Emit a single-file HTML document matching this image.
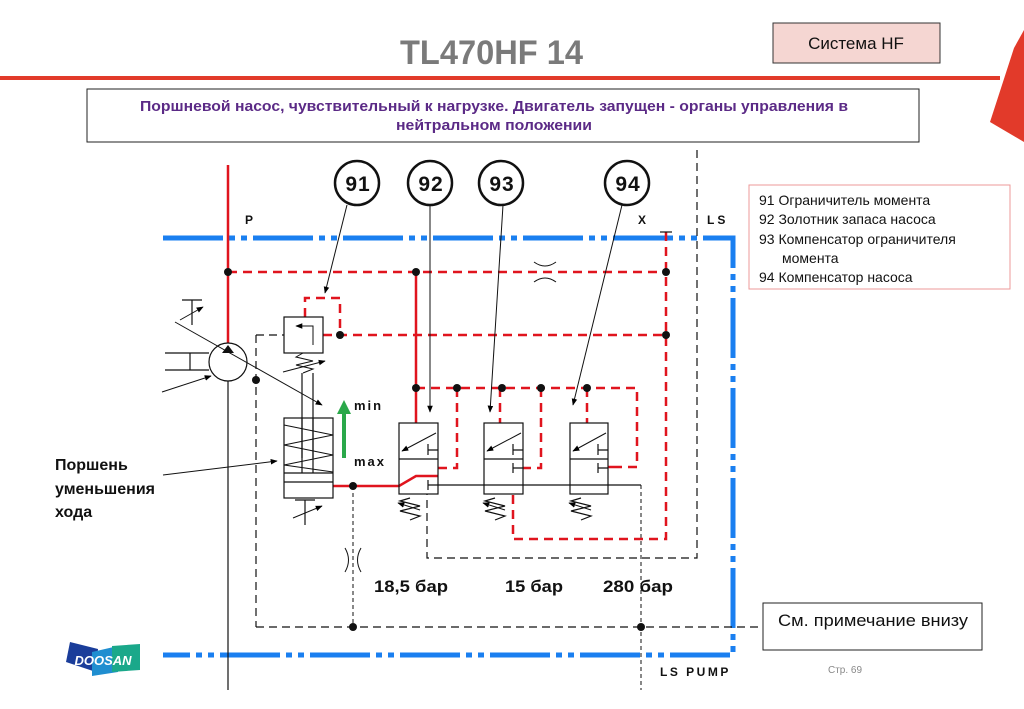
<!DOCTYPE html>
<html><head><meta charset="utf-8"><style>
body{margin:0;background:#fff;width:1024px;height:709px;overflow:hidden}
svg{display:block}
text{font-family:"Liberation Sans",sans-serif}
</style></head><body>
<svg width="1024" height="709" viewBox="0 0 1024 709" xmlns="http://www.w3.org/2000/svg">
<defs>
<marker id="ah" viewBox="0 0 10 10" refX="9" refY="5" markerWidth="7" markerHeight="7" orient="auto"><path d="M0,1 L10,5 L0,9 z" fill="#000"/></marker>
</defs>
<!-- header -->
<text x="400" y="64" font-size="34" font-weight="bold" fill="#7a7a7a" textLength="183" lengthAdjust="spacingAndGlyphs">TL470HF  14</text>
<rect x="773" y="23" width="167" height="40" fill="#f5d6d2" stroke="#333" stroke-width="1"/>
<text x="856" y="49" font-size="17" text-anchor="middle" fill="#111">Система HF</text>
<rect x="0" y="76" width="1000" height="4" fill="#e23a2a"/>
<polygon points="1014,48 1024,30 1024,142 990,122" fill="#e23a2a"/>
<rect x="87" y="89" width="832" height="53" fill="#fff" stroke="#222" stroke-width="1"/>
<text x="140" y="111" font-size="15" font-weight="bold" fill="#5b2a86" textLength="708" lengthAdjust="spacingAndGlyphs">Поршневой насос, чувствительный к нагрузке. Двигатель запущен - органы управления в</text>
<text x="396" y="130" font-size="15" font-weight="bold" fill="#5b2a86" textLength="196" lengthAdjust="spacingAndGlyphs">нейтральном положении</text>
<!-- legend -->
<rect x="749" y="185" width="261" height="104" fill="#fff" stroke="#e99" stroke-width="1"/>
<g font-size="14" fill="#111">
<text x="759" y="205">91 Ограничитель момента</text>
<text x="759" y="224">92 Золотник запаса насоса</text>
<text x="759" y="244">93 Компенсатор ограничителя</text>
<text x="782" y="263">момента</text>
<text x="759" y="282">94 Компенсатор насоса</text>
</g>
<rect x="763" y="603" width="219" height="47" fill="#fff" stroke="#222"/>
<text x="778" y="626" font-size="17" fill="#111" textLength="190" lengthAdjust="spacingAndGlyphs">См. примечание внизу</text>
<!-- blue lines -->
<g stroke="#1a7ff0" stroke-width="5" fill="none" stroke-dasharray="60,6,6,6,6,6">
<path d="M163,238 H733 V655 H163"/>
</g>
<!-- black dashed frame -->
<g stroke="#111" stroke-width="1.2" fill="none" stroke-dasharray="8,5">
<path d="M697,150 V558 H427 V494"/>
<path d="M256,627 H760"/>
<path d="M256,335 V627"/>
<path d="M256,335 H284"/>
</g>
<g stroke="#111" stroke-width="1" fill="none" stroke-dasharray="4,3">
<path d="M353,486 V627"/>
<path d="M641,485 V690"/>
</g>
<path d="M345,548 Q352,560 345,572 M361,548 Q354,560 361,572" stroke="#111" fill="none"/>
<path d="M534,262 Q545,270 556,262 M534,282 Q545,274 556,282" stroke="#111" fill="none"/>
<!-- black solid -->
<g stroke="#111" stroke-width="1.2" fill="none">
<path d="M228,381 V690"/>
<path d="M438,485 H641"/>
<path d="M165,353 H209 M165,370 H209 M190,353 V370"/>
<path d="M192,300 V325 M182,300 H202"/>
<path d="M305,500 V525 M295,500 H315"/>
</g>
<!-- red -->
<g stroke="#e0141e" stroke-width="2.5" fill="none">
<path d="M228,165 V343"/>
<path d="M416,272 V423"/>
<path d="M333,486 H399 L416,476 H438"/>
<path d="M608,467 H620"/>
</g>
<g stroke="#e0141e" stroke-width="2.5" fill="none" stroke-dasharray="9,6">
<path d="M228,272 H666"/>
<path d="M323,335 H666"/>
<path d="M305,317 V298 H340 V335"/>
<path d="M666,232 V539 H513 V494"/>
<path d="M416,388 H637 V467 H620"/>
<path d="M457,388 V468 H438"/>
<path d="M541,388 V468 H523"/>
<path d="M500,388 V423"/>
<path d="M587,388 V423"/>
</g>
<path d="M660,232 H672" stroke="#111" stroke-width="1.2"/>
<!-- dots -->
<g fill="#111">
<circle cx="228" cy="272" r="4"/><circle cx="416" cy="272" r="4"/><circle cx="666" cy="272" r="4"/>
<circle cx="340" cy="335" r="4"/><circle cx="666" cy="335" r="4"/>
<circle cx="416" cy="388" r="4"/><circle cx="457" cy="388" r="4"/><circle cx="502" cy="388" r="4"/><circle cx="541" cy="388" r="4"/><circle cx="587" cy="388" r="4"/>
<circle cx="256" cy="380" r="4"/><circle cx="353" cy="486" r="4"/>
<circle cx="353" cy="627" r="4"/><circle cx="641" cy="627" r="4"/>
</g>
<!-- pump -->
<circle cx="228" cy="362" r="19" fill="#fff" stroke="#111" stroke-width="1.2"/>
<polygon points="228,345 222,353 234,353" fill="#111"/>
<path d="M175,322 L322,405" stroke="#111" marker-end="url(#ah)"/>
<path d="M162,392 L211,376" stroke="#111" marker-end="url(#ah)"/>
<path d="M180,320 L203,307" stroke="#111" marker-end="url(#ah)"/>
<!-- box 91 -->
<rect x="284" y="317" width="39" height="36" fill="#fff" stroke="#111" stroke-width="1.2"/>
<path d="M313,345 V326 H296" stroke="#111" fill="none" marker-end="url(#ah)"/>
<path d="M303,353 L296,357 L313,361 L296,365 L313,369 L303,373" stroke="#111" fill="none"/>
<path d="M283,372 L325,361" stroke="#111" marker-end="url(#ah)"/>
<path d="M302,373 V458 M313,373 V458" stroke="#111" stroke-width="1.2"/>
<!-- cylinder -->
<rect x="284" y="418" width="49" height="80" fill="none" stroke="#111" stroke-width="1.2"/>
<path d="M284,473 H333 M284,482 H333" stroke="#111" stroke-width="1.2"/>
<path d="M284,425 L333,435 L284,445 L333,455 L284,465 L333,472" stroke="#111" fill="none"/>
<path d="M302,418 V473 M313,418 V473" stroke="#111" stroke-width="1.2"/>
<path d="M163,475 L277,461" stroke="#111" marker-end="url(#ah)"/>
<path d="M293,518 L322,506" stroke="#111" marker-end="url(#ah)"/>
<!-- green arrow -->
<path d="M344,458 V412" stroke="#2aa84a" stroke-width="4"/>
<polygon points="344,400 337,414 351,414" fill="#2aa84a"/>
<text x="354" y="410" font-size="13" font-weight="bold" letter-spacing="2" fill="#111">min</text>
<text x="354" y="466" font-size="13" font-weight="bold" letter-spacing="2" fill="#111">max</text>
<!-- valves -->
<g stroke="#111" stroke-width="1.2" fill="none">
<rect x="399" y="423" width="39" height="71"/><path d="M399,459 H438"/>
<rect x="484" y="423" width="39" height="71"/><path d="M484,459 H523"/>
<rect x="570" y="423" width="38" height="71"/><path d="M570,459 H608"/>
<path d="M428,444 V455 M428,450 H438 M428,480 V490 M428,485 H438"/>
<path d="M513,444 V455 M513,450 H523 M513,463 V473 M513,468 H523"/>
<path d="M598,444 V455 M598,450 H608 M598,463 V473 M598,468 H608"/>
<path d="M410,498 L400,501 L420,506 L400,511 L420,516 L410,520"/>
<path d="M495,498 L485,501 L505,506 L485,511 L505,516 L495,520"/>
<path d="M581,498 L571,501 L591,506 L571,511 L591,516 L581,520"/>
</g>
<g stroke="#111">
<path d="M436,433 L402,451" marker-end="url(#ah)"/>
<path d="M521,433 L487,451" marker-end="url(#ah)"/>
<path d="M606,433 L573,451" marker-end="url(#ah)"/>
<path d="M420,510 L398,503" marker-end="url(#ah)"/>
<path d="M505,510 L483,503" marker-end="url(#ah)"/>
<path d="M591,510 L569,503" marker-end="url(#ah)"/>
</g>
<!-- callouts -->
<g stroke="#111" stroke-width="2.5" fill="#fff">
<circle cx="357" cy="183" r="22"/><circle cx="430" cy="183" r="22"/><circle cx="501" cy="183" r="22"/><circle cx="627" cy="183" r="22"/>
</g>
<g font-size="21" font-weight="bold" text-anchor="middle" fill="#111" letter-spacing="1">
<text x="358" y="191">91</text><text x="431" y="191">92</text><text x="502" y="191">93</text><text x="628" y="191">94</text>
</g>
<g stroke="#111" stroke-width="1">
<path d="M347,205 L325,293" marker-end="url(#ah)"/>
<path d="M430,205 V412" marker-end="url(#ah)"/>
<path d="M503,205 L490,412" marker-end="url(#ah)"/>
<path d="M622,205 L573,405" marker-end="url(#ah)"/>
</g>
<g font-size="12" font-weight="bold" fill="#111">
<text x="245" y="224">P</text><text x="638" y="224">X</text><text x="707" y="224" letter-spacing="3">LS</text>
<text x="660" y="676" letter-spacing="2.5">LS PUMP</text>
</g>
<g font-size="16" font-weight="bold" fill="#111">
<text x="55" y="470">Поршень</text><text x="55" y="494">уменьшения</text><text x="55" y="517">хода</text>
<text x="374" y="592" font-size="17" textLength="74" lengthAdjust="spacingAndGlyphs">18,5 бар</text>
<text x="505" y="592" font-size="17" textLength="58" lengthAdjust="spacingAndGlyphs">15 бар</text>
<text x="603" y="592" font-size="17" textLength="70" lengthAdjust="spacingAndGlyphs">280 бар</text>
</g>
<text x="828" y="673" font-size="10" fill="#888">Стр. 69</text>
<!-- logo -->
<polygon points="70,642 98,649 96,672 66,662" fill="#1a3d9a"/>
<polygon points="92,652 118,646 118,672 92,676" fill="#1f8ed0"/>
<polygon points="112,646 140,644 140,670 112,672" fill="#1aa88a"/>
<text x="103" y="665" font-size="13" font-weight="bold" font-style="italic" fill="#fff" text-anchor="middle">DOOSAN</text>
</svg>
</body></html>
